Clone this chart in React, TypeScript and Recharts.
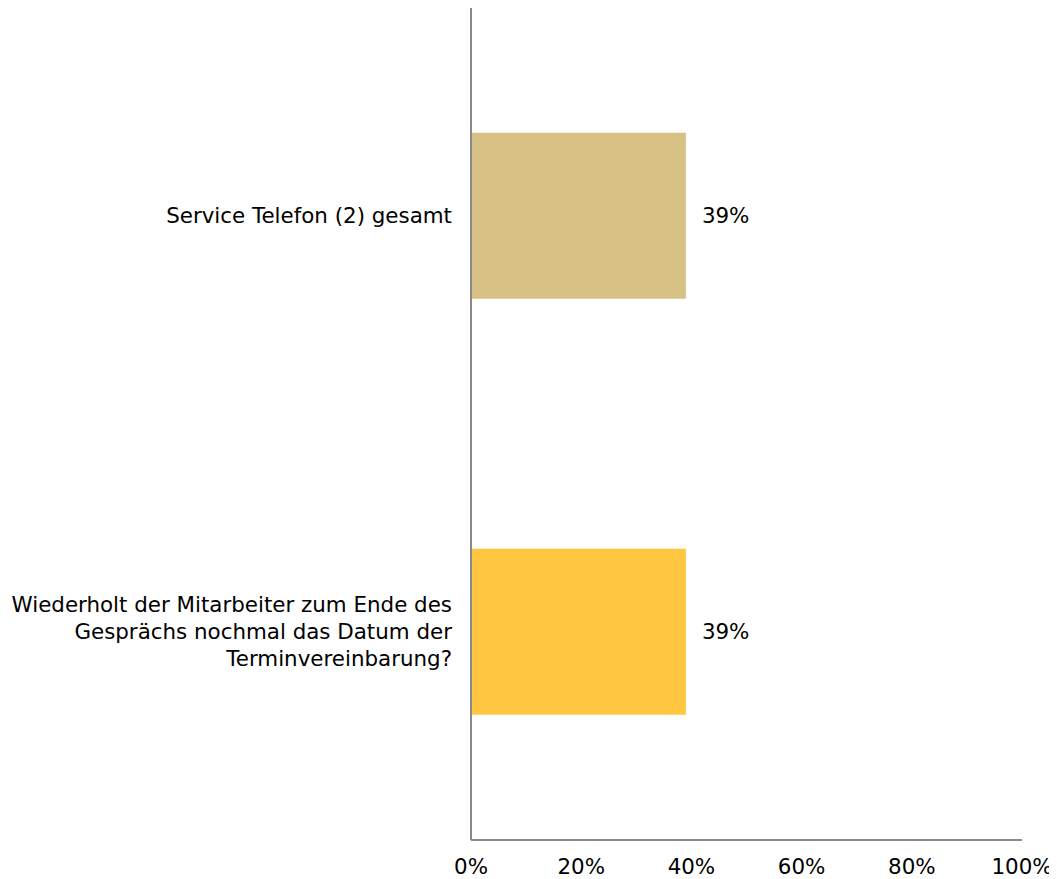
import React from "react";
import { BarChart, Bar, XAxis, YAxis, Cell, LabelList } from "recharts";

const categories = [
  "Service Telefon (2) gesamt",
  "Wiederholt der Mitarbeiter zum Ende des Gesprächs nochmal das Datum der Terminvereinbarung?",
];
const tickLines: string[][] = [
  ["Service Telefon (2) gesamt"],
  ["Wiederholt der Mitarbeiter zum Ende des", "Gesprächs nochmal das Datum der", "Terminvereinbarung?"],
];
const values = [39, 39];
const colors = ["#D7C084", "#FFC642"];
const xTicks = [0, 20, 40, 60, 80, 100];

const data = categories.map((c, i) => ({ name: c, value: values[i], idx: i }));

const FONT = "'DejaVu Sans', Verdana, sans-serif";
const FS = 21.4;

const YTick = (props: any) => {
  const { x, y, index } = props;
  const lines = tickLines[index] || [String(props.payload.value)];
  const lh = 27;
  const start = y - ((lines.length - 1) * lh) / 2;
  return (
    <text x={x} y={start} textAnchor="end" fill="#000" fontSize={FS} fontFamily={FONT}>
      {lines.map((l, i) => (
        <tspan key={i} x={x} y={start + i * lh} dy="0.35em">
          {l}
        </tspan>
      ))}
    </text>
  );
};

export default function App() {
  return (
    <div style={{ width: 1041, height: 871, overflow: "visible" }}>
      <BarChart
        width={1049}
        height={871}
        data={data}
        layout="vertical"
        margin={{ top: 0, right: 35, left: 0, bottom: 0 }}
        barCategoryGap="30%"
      >
        <XAxis
          type="number"
          domain={[0, 100]}
          ticks={xTicks}
          tickFormatter={(v: number) => `${v}%`}
          axisLine={{ stroke: "#898989", strokeWidth: 2 }}
          tickLine={false}
          tickSize={0}
          tickMargin={19}
          height={39}
          interval={0}
          tick={{ fill: "#000", fontSize: FS, fontFamily: FONT }}
        />
        <YAxis
          type="category"
          dataKey="name"
          width={463}
          axisLine={{ stroke: "#898989", strokeWidth: 2 }}
          tickLine={false}
          tickSize={0}
          tickMargin={19}
          tick={<YTick />}
          interval={0}
        />
        <Bar dataKey="value" isAnimationActive={false}>
          {data.map((d, i) => (
            <Cell key={i} fill={colors[i]} />
          ))}
          <LabelList
            dataKey="value"
            position="right"
            offset={16}
            formatter={(v: number) => `${v}%`}
            style={{ fill: "#000", fontSize: FS, fontFamily: FONT }}
          />
        </Bar>
      </BarChart>
    </div>
  );
}
